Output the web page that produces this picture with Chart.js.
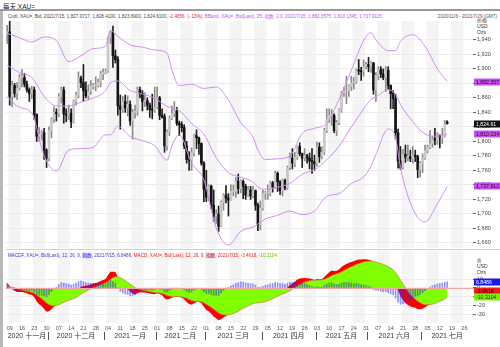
<!DOCTYPE html>
<html>
<head>
<meta charset="utf-8">
<script src="https://cdn.jsdelivr.net/npm/chart.js@4.4.1/dist/chart.umd.min.js"></script>
<style>
  body { margin: 0; width: 500px; height: 347px; background: #fff; position: relative; overflow: hidden;
         font-family: "Liberation Sans", "Noto Sans CJK SC", sans-serif; }
  .abs { position: absolute; white-space: nowrap; }
  #title { left: 3px; top: 1px; font-size: 6.5px; color: #222; }
  #topRule { left: 0; top: 9px; width: 500px; height: 2px; background: #9a9a9a; }
  #leftRule { left: 0; top: 11px; width: 3px; height: 336px; background: #b8b8b8; }
  #range { right: 3px; top: 14px; font-size: 4.6px; color: #555; }
  #hdr { left: 8px; top: 13px; font-size: 4.6px; color: #444; }
  #macdHdr { left: 8px; top: 252px; font-size: 4.6px; }
  .unit { left: 477px; font-size: 5px; color: #333; line-height: 6px; }
  .hl { background: #c9c9ff; }
  #main { left: 0; top: 21px; }
  #sub { left: 0; top: 251px; }
  .sep { left: 6px; width: 494px; height: 1px; background: #cfcfcf; }
</style>
</head>
<body>
<div id="title" class="abs">每天 XAU=</div>
<div id="topRule" class="abs"></div>
<div id="leftRule" class="abs"></div>
<div id="hdr" class="abs">Cndl, XAU=, Bid, 2021/7/15, 1,827.0717, 1,828.4100, 1,823.6900, 1,824.6100, <span style="color:#e8231c">-2.4656, (-.13%),</span> <span style="color:#c24cf0">BBand, XAU=, Bid(Last), 25, 指数, 2.0, 2021/7/15, 1,882.3575, 1,810.1345, 1,737.9115</span></div>
<div id="range" class="abs">2020/11/6 - 2021/7/29 (GMT)</div>
<div class="abs unit" style="top:17px">价格<br>USD<br>Ozs</div>
<div class="abs sep" style="top:249px"></div>
<canvas id="main" class="abs" width="500" height="227"></canvas>
<canvas id="sub" class="abs" width="500" height="96"></canvas>
<div id="macdHdr" class="abs"><span style="color:#3b3bd8">MACDF, XAU=, Bid(Last), 12, 26, 9, <span class="hl">指数</span>, 2021/7/15, 6.8486,</span> <span style="color:#e8231c">MACD, XAU=, Bid(Last), 12, 26, 9, <span class="hl">指数</span>, 2021/7/15, -3.4618,</span> <span style="color:#5cc400">-10.3104</span></div>
<div class="abs unit" style="top:257px">价<br>USD<br>Ozs</div>
<script>
// calendar range of the x axis (weekdays only)
const startDay = '2020-11-06';
const endDay = '2021-07-29';

// daily candles, 2020-11-06 .. 2021-07-15
const opens = [1948,
  1951,1862,1877,1866,1873, 1888,1888,1879,1871,1866, 1871,1837,1807,1810,1812, 1788,1777,1815,1831,1840,
  1838,1862,1871,1838,1836, 1839,1827,1855,1864,1887, 1881,1870,1863,1869,1876, 1877,1877,1882,1893,1895,
  1897,1943,1950,1918,1913, 1849,1844,1855,1846,1851, 1828,1840,1840,1871,1866, 1855,1856,1850,1844,1843,
  1847,1860,1836,1834,1794, 1813,1832,1838,1842,1825, 1823,1819,1794,1775,1774, 1784,1808,1805,1797,1770,
  1734,1723,1738,1712,1697, 1700,1683,1716,1726,1722, 1719,1731,1731,1745,1735, 1745,1738,1726,1733,1725,
  1732,1712,1685,1708,1728, 1729,1729,1743,1737,1756, 1744,1732,1746,1736,1764, 1777,1770,1778,1793,1783,
  1777,1780,1777,1773,1772, 1769,1792,1779,1785,1815, 1831,1836,1836,1815,1826, 1843,1867,1869,1870,1876,
  1881,1882,1898,1897,1896, 1903,1906,1903,1908,1871, 1891,1899,1893,1888,1898, 1877,1866,1859,1812,1773,
  1764,1782,1778,1779,1776, 1781,1779,1761,1770,1777, 1787,1792,1797,1803,1802, 1808,1806,1808,1827.07];
const highs = [1960,
  1966,1883,1880,1881,1892, 1899,1894,1883,1874,1876, 1875,1838,1819,1815,1818, 1790,1820,1833,1848,1845,
  1866,1875,1875,1845,1850, 1845,1857,1868,1896,1890, 1906,1882,1878,1884,1880, 1889,1886,1897,1900,1900,
  1944,1952,1959,1926,1917, 1864,1862,1864,1863,1856, 1844,1850,1875,1875,1870, 1867,1860,1853,1865,1875,
  1875,1862,1845,1838,1816, 1835,1849,1855,1847,1828, 1827,1823,1800,1786,1791, 1810,1816,1806,1798,1772,
  1760,1740,1740,1733,1706, 1711,1718,1728,1739,1728, 1740,1740,1750,1755,1747, 1747,1741,1738,1738,1738,
  1733,1715,1718,1733,1731, 1740,1745,1745,1759,1758, 1746,1748,1748,1766,1784, 1790,1785,1794,1798,1784,
  1790,1782,1784,1790,1781, 1799,1798,1793,1818,1845, 1845,1844,1838,1829,1845, 1869,1875,1890,1878,1890,
  1888,1900,1913,1902,1912, 1909,1916,1910,1909,1895, 1903,1903,1900,1903,1903, 1878,1870,1865,1817,1793,
  1789,1795,1795,1788,1793, 1788,1781,1772,1783,1795, 1795,1815,1807,1818,1812, 1809,1818,1829,1828.41];
const lows = [1935,
  1850,1848,1861,1858,1871, 1875,1875,1868,1855,1859, 1830,1800,1800,1802,1775, 1764,1773,1805,1826,1828,
  1834,1853,1825,1827,1830, 1819,1825,1850,1860,1874, 1855,1860,1858,1865,1872, 1870,1875,1875,1885,1893,
  1895,1935,1902,1908,1836, 1817,1840,1840,1835,1822, 1803,1832,1836,1860,1842, 1848,1843,1833,1831,1840,
  1845,1830,1832,1785,1788, 1808,1830,1834,1822,1808, 1813,1790,1770,1760,1760, 1780,1790,1782,1767,1717,
  1717,1718,1707,1690,1687, 1676,1682,1705,1715,1697, 1719,1725,1723,1728,1729, 1721,1720,1724,1720,1722,
  1705,1677,1678,1705,1720, 1720,1725,1730,1735,1731, 1727,1725,1733,1734,1761, 1762,1765,1775,1780,1764,
  1773,1770,1762,1756,1760, 1766,1771,1776,1782,1812, 1826,1822,1812,1808,1823, 1840,1862,1852,1862,1870,
  1872,1880,1892,1884,1890, 1900,1896,1895,1865,1855, 1885,1888,1885,1869,1872, 1845,1845,1803,1763,1761,
  1762,1771,1773,1772,1770, 1772,1750,1751,1757,1775, 1784,1790,1792,1795,1796, 1791,1797,1806,1823.69];
const closes = [1951,
  1862,1877,1866,1873,1888, 1888,1879,1871,1866,1871, 1837,1807,1810,1812,1788, 1777,1815,1831,1840,1838,
  1862,1871,1838,1836,1839, 1827,1855,1864,1887,1881, 1870,1863,1869,1876,1877, 1877,1882,1893,1895,1897,
  1943,1950,1918,1913,1849, 1844,1855,1846,1851,1828, 1840,1840,1871,1866,1855, 1856,1850,1844,1843,1847,
  1860,1836,1834,1794,1813, 1832,1838,1842,1825,1823, 1819,1794,1775,1774,1784, 1808,1805,1797,1770,1734,
  1723,1738,1712,1697,1700, 1683,1716,1726,1722,1719, 1731,1731,1745,1735,1745, 1738,1726,1733,1725,1732,
  1712,1685,1708,1728,1729, 1729,1743,1737,1756,1744, 1732,1746,1736,1764,1777, 1770,1778,1793,1783,1777,
  1780,1777,1773,1772,1769, 1792,1779,1785,1815,1831, 1836,1836,1815,1826,1843, 1867,1869,1870,1876,1881,
  1882,1898,1897,1896,1903, 1906,1903,1908,1871,1891, 1899,1893,1888,1898,1877, 1866,1859,1812,1773,1764,
  1782,1778,1779,1776,1781, 1779,1761,1770,1777,1787, 1792,1797,1803,1802,1808, 1806,1808,1824,1824.61];

// Bollinger band (25, exponential, 2.0) read at the day indexes in bandDays
const bandDays  = [0,5,10,15,20,25,30,35,40,42,45,50,55,60,65,67,70,75,80,85,90,95,100,102,105,110,115,120,125,130,135,140,145,148,150,155,158,160,165,170,175,179];
const bandUpper = [1949,1943,1937,1944,1939,1910,1918,1928,1931,1953,1945,1933,1930,1926,1922,1898,1877,1879,1873,1875,1857,1826,1806,1788,1775,1776,1780,1811,1818,1825,1858,1898,1939,1950,1940,1925,1925,1938,1947,1931,1900,1882.36];
const bandMid   = [1905,1894.7,1888,1862.1,1849,1848.7,1854.1,1859.8,1869.6,1881,1883.3,1870.4,1865.4,1859.6,1848.3,1846.3,1842.7,1824.6,1809.8,1777.8,1756.9,1750.6,1744,1737.2,1734,1736.8,1742,1754.7,1761,1774.6,1793.3,1819.7,1844.8,1857.8,1861.3,1870.9,1865.2,1850.9,1827.2,1810.1,1807.1,1810.13];
const bandLower = [1861,1847,1839,1780,1759,1788,1790,1792,1809,1809,1821,1807,1801,1794,1774,1794,1809,1770,1747,1681,1657,1676,1682,1686,1693,1698,1704,1699,1704,1724,1728,1742,1751,1766,1782,1817,1805,1764,1707,1689,1714,1737.91];

// MACD (12, 26, 9), daily
const macdLine = [6.0,
  1.6,-0.7,-3.3,-4.8,-4.7, -4.6,-5.2,-6.2,-7.4,-7.8, -10.8,-15.4,-18.6,-20.7,-24.1, -27.3,-26.5,-24.3,-21.6,-19.4,
  -15.5,-11.6,-11.0,-10.5,-9.8, -10.1,-8.0,-5.5,-1.7,0.9, 2.0,2.3,3.1,4.1,5.0, 5.6,6.5,7.9,9.1,10.1,
  14.4,18.3,18.5,18.1,12.4, 7.4,4.3,1.1,-1.0,-4.5, -6.4,-7.6,-6.1,-5.1,-5.3, -5.3,-5.7,-6.4,-7.1,-7.2,
  -6.1,-7.1,-8.0,-11.8,-13.1, -12.4,-11.3,-10.0,-10.3,-10.5, -10.9,-13.0,-16.1,-18.4,-19.1, -17.6,-16.5,-16.0,-17.6,-21.5,
  -25.3,-26.7,-29.6,-32.7,-34.5, -36.9,-35.7,-33.6,-31.9,-30.4, -28.0,-25.8,-22.7,-20.8,-18.2, -16.5,-16.0,-14.8,-14.4,-13.3,
  -13.9,-16.3,-16.3,-14.5,-12.8, -11.3,-8.9,-7.4,-4.7,-3.4, -3.3,-2.1,-2.0,0.5,3.3, 5.0,6.9,9.6,10.7,11.0,
  11.3,11.1,10.6,10.0,9.1, 10.2,9.9,10.1,12.4,15.3, 17.9,19.7,19.3,19.6,20.9, 23.7,25.8,27.2,28.5,29.6,
  30.2,31.6,32.2,32.3,32.5, 32.6,32.0,31.6,28.0,26.4, 25.5,24.0,22.2,21.4,18.8, 15.6,12.4,5.8,-2.7,-9.8,
  -13.8,-17.1,-19.4,-21.2,-22.0, -22.6,-24.2,-24.4,-23.7,-22.2, -20.3,-18.3,-16.0,-14.1,-12.0, -10.3,-8.7,-6.1,-3.4618];
const signalLine = [1.0,
  1.1,0.7,-0.1,-1.0,-1.7, -2.3,-2.9,-3.6,-4.3,-5.0, -6.2,-8.0,-10.1,-12.2,-14.6, -17.1,-19.0,-20.1,-20.4,-20.2,
  -19.2,-17.7,-16.4,-15.2,-14.1, -13.3,-12.3,-10.9,-9.1,-7.1, -5.3,-3.8,-2.4,-1.1,0.1, 1.2,2.3,3.4,4.5,5.6,
  7.4,9.6,11.4,12.7,12.7, 11.6,10.1,8.3,6.5,4.3, 2.2,0.2,-1.1,-1.9,-2.6, -3.1,-3.6,-4.2,-4.8,-5.2,
  -5.4,-5.8,-6.2,-7.3,-8.5, -9.3,-9.7,-9.8,-9.9,-10.0, -10.2,-10.8,-11.8,-13.1,-14.3, -15.0,-15.3,-15.4,-15.9,-17.0,
  -18.7,-20.3,-22.1,-24.2,-26.3, -28.4,-29.9,-30.6,-30.9,-30.8, -30.2,-29.3,-28.0,-26.6,-24.9, -23.2,-21.8,-20.4,-19.2,-18.0,
  -17.2,-17.0,-16.9,-16.4,-15.7, -14.8,-13.6,-12.4,-10.9,-9.4, -8.2,-7.0,-6.0,-4.7,-3.1, -1.5,0.2,2.1,3.8,5.2,
  6.5,7.4,8.0,8.4,8.6, 8.9,9.1,9.3,9.9,11.0, 12.4,13.8,14.9,15.9,16.9, 18.2,19.8,21.2,22.7,24.1,
  25.3,26.6,27.7,28.6,29.4, 30.0,30.4,30.7,30.1,29.4, 28.6,27.7,26.6,25.5,24.2, 22.5,20.5,17.5,13.5,8.8,
  4.3,0.0,-3.9,-7.4,-10.3, -12.8,-15.0,-16.9,-18.3,-19.1, -19.3,-19.1,-18.5,-17.6,-16.5, -15.3,-14.0,-12.4,-10.3104];

// axis ticks and labels
const priceTicks = [1660,1680,1700,1720,1740,1760,1780,1800,1820,1840,1860,1880,1900,1920,1940];
const macdTicks = [10,0,-10,-20,-30];
const monthNames = ['2020 十一月','2020 十二月','2021 一月','2021 二月','2021 三月','2021 四月','2021 五月','2021 六月','2021 七月'];

// last values shown as tags on the right
const priceTags = [1882.3575, 1824.61, 1810.1345, 1737.9115];
const priceTagText = ['1,882.357', '1,824.61', '1,810.134', '1,737.912'];
const macdTags = [6.8486, -3.4618, -10.3104];
const macdTagText = ['6.8486', '-3.4618', '-10.3104'];

// ---- build ----
const days = [];
for (let d = new Date(startDay + 'T00:00:00Z'); d <= new Date(endDay + 'T00:00:00Z'); d.setUTCDate(d.getUTCDate() + 1)) {
  const wd = d.getUTCDay();
  if (wd !== 0 && wd !== 6) days.push(d.toISOString().slice(0, 10));
}
const isMonday = i => new Date(days[i] + 'T00:00:00Z').getUTCDay() === 1;
const pad = arr => days.map((_, i) => (i < arr.length ? arr[i] : null));
const band = vals => {
  const out = days.map(() => null);
  bandDays.forEach((di, k) => { out[di] = vals[k]; });
  return out;
};

const FONT = '"Liberation Sans", "Noto Sans CJK SC", sans-serif';
const isUp = i => closes[i] >= opens[i];
const wickData = pad(highs.map((h, i) => [lows[i], h]));
const bodyData = pad(opens.map((o, i) => [o, closes[i]]));
const histData = pad(macdLine.map((m, i) => m - signalLine[i]));

const weekStripes = {
  id: 'weekStripes',
  beforeDraw(chart) {
    const { ctx, chartArea: a, scales: { x } } = chart;
    const slot = (a.right - a.left) / days.length;
    ctx.save();
    ctx.fillStyle = '#f4f4f4';
    for (let i = 1; i < days.length; i += 10) {
      const last = Math.min(i + 4, days.length - 1);
      const l = x.getPixelForValue(i) - slot / 2;
      const r = x.getPixelForValue(last) + slot / 2;
      ctx.fillRect(l, a.top, r - l, a.bottom - a.top);
    }
    ctx.restore();
  }
};

function tagPlugin(values, texts, colors) {
  return {
    id: 'tags',
    afterDraw(chart) {
      const { ctx, chartArea: a, scales: { y } } = chart;
      ctx.save();
      ctx.font = '5.2px ' + FONT;
      ctx.textBaseline = 'middle';
      values.forEach((v, k) => {
        const py = Math.round(y.getPixelForValue(v));
        ctx.fillStyle = colors[k][0];
        ctx.fillRect(a.right + 1, py - 3.5, chart.width - a.right - 1, 7);
        ctx.fillStyle = colors[k][1];
        ctx.fillText(texts[k], a.right + 3, py + 0.5);
      });
      ctx.restore();
    }
  };
}

const bandColor = '#d38cf6';
const bandLine = vals => ({
  type: 'line', data: band(vals), borderColor: bandColor, borderWidth: 1,
  pointRadius: 0, spanGaps: true, cubicInterpolationMode: 'monotone', order: 0
});

new Chart(document.getElementById('main'), {
  type: 'bar',
  data: {
    labels: days,
    datasets: [
      bandLine(bandUpper), bandLine(bandMid), bandLine(bandLower),
      { data: wickData, grouped: false, barThickness: 1, order: 2,
        backgroundColor: days.map((_, i) => (i < closes.length && !isUp(i) ? '#1e1e1e' : '#8c8c8c')) },
      { data: bodyData, grouped: false, barThickness: 2, minBarLength: 1, order: 1,
        backgroundColor: days.map((_, i) => (i < closes.length && !isUp(i) ? '#141414' : '#c9c9c9')) }
    ]
  },
  options: {
    responsive: false,
    animation: false,
    layout: { padding: { left: 6 } },
    plugins: { legend: { display: false }, tooltip: { enabled: false } },
    scales: {
      x: { display: false, offset: true },
      y: {
        position: 'right', min: 1653, max: 1966,
        afterBuildTicks: s => { s.ticks = priceTicks.map(v => ({ value: v })); },
        afterFit: s => { s.width = 27; s.paddingTop = 0; s.paddingBottom = 0; },
        grid: { color: '#ececec', tickColor: '#666', tickLength: 3 },
        border: { display: false },
        ticks: { font: { size: 5.5, family: FONT }, color: '#444', padding: 1, callback: v => v.toLocaleString('en-US') }
      }
    }
  },
  plugins: [weekStripes, tagPlugin(priceTags, priceTagText,
    [['#c64ef2', '#2a0a33'], ['#111', '#fff'], ['#c64ef2', '#2a0a33'], ['#c64ef2', '#2a0a33']])]
});

const dateAxis = {
  id: 'dateAxis',
  afterDraw(chart) {
    const { ctx, chartArea: a, scales: { x } } = chart;
    const slot = (a.right - a.left) / days.length;
    ctx.save();
    // day numbers under each Monday
    ctx.fillStyle = '#555';
    ctx.font = '5.5px ' + FONT;
    ctx.textAlign = 'center';
    ctx.textBaseline = 'middle';
    days.forEach((d, i) => { if (isMonday(i)) ctx.fillText(d.slice(8), x.getPixelForValue(i), a.bottom + 5); });
    // month names between separators
    const starts = [];
    days.forEach((d, i) => { if (i > 0 && d.slice(5, 7) !== days[i - 1].slice(5, 7)) starts.push(i); });
    const edges = [a.left].concat(starts.map(i => x.getPixelForValue(i) - slot / 2), [a.right]);
    ctx.fillStyle = '#333';
    ctx.font = '7px ' + FONT;
    monthNames.forEach((name, k) => ctx.fillText(name, (edges[k] + edges[k + 1]) / 2, a.bottom + 13));
    ctx.strokeStyle = '#555';
    ctx.lineWidth = 1;
    starts.forEach(i => {
      const px = Math.round(x.getPixelForValue(i) - slot / 2) + 0.5;
      ctx.beginPath(); ctx.moveTo(px, a.bottom + 9); ctx.lineTo(px, a.bottom + 17); ctx.stroke();
    });
    // zero line runs across the value column too
    const zy = Math.round(chart.scales.y.getPixelForValue(0)) + 0.5;
    ctx.strokeStyle = '#f3a5a5';
    ctx.beginPath(); ctx.moveTo(a.left, zy); ctx.lineTo(chart.width, zy); ctx.stroke();
    ctx.restore();
  }
};

new Chart(document.getElementById('sub'), {
  type: 'bar',
  data: {
    labels: days,
    datasets: [
      { data: histData, grouped: false, barThickness: 1, order: 0, backgroundColor: 'rgba(40,40,235,0.5)' },
      { type: 'line', data: pad(signalLine), borderColor: '#d0853c', borderWidth: 0.8, pointRadius: 0, fill: false, order: 1 },
      { type: 'line', data: pad(signalLine), borderWidth: 0, pointRadius: 0, fill: 'origin', backgroundColor: '#80ff00', order: 2 },
      { type: 'line', data: pad(macdLine), borderWidth: 0, pointRadius: 0, fill: 'origin', backgroundColor: '#ff0000', order: 3 }
    ]
  },
  options: {
    responsive: false,
    animation: false,
    layout: { padding: { left: 6 } },
    plugins: { legend: { display: false }, tooltip: { enabled: false } },
    scales: {
      x: {
        offset: true,
        grid: { display: false },
        border: { display: false },
        ticks: { display: false },
        afterFit: s => { s.height = 24; s.paddingLeft = 0; s.paddingRight = 0; }
      },
      y: {
        position: 'right', min: -40, max: 42,
        afterBuildTicks: s => { s.ticks = macdTicks.map(v => ({ value: v })); },
        afterFit: s => { s.width = 27; s.paddingTop = 0; s.paddingBottom = 0; },
        grid: { color: '#ececec', tickColor: '#666', tickLength: 3 },
        border: { display: false },
        ticks: { font: { size: 5.5, family: FONT }, color: '#444', padding: 1 }
      }
    }
  },
  plugins: [weekStripes, dateAxis, tagPlugin(macdTags, macdTagText,
    [['#1a1af0', '#fff'], ['#ee1c1c', '#300'], ['#7cf000', '#133']])]
});
</script>
</body>
</html>
